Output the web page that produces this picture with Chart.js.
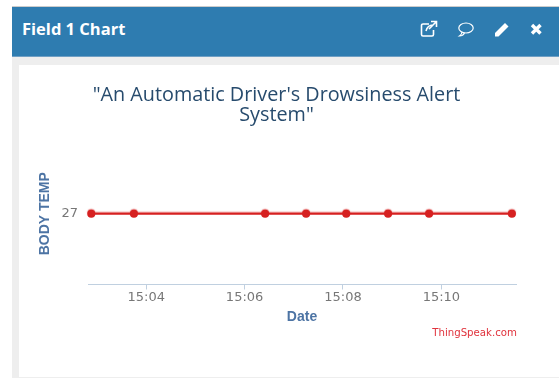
<!DOCTYPE html>
<html>
<head>
<meta charset="UTF-8">
<title>Field 1 Chart</title>
<script src="https://cdn.jsdelivr.net/npm/chart.js"></script>
<style>
    html, body { margin: 0; padding: 0; width: 559px; height: 379px; background: #fff; overflow: hidden; font-family: 'Lato', sans-serif; }
    .panel { position: absolute; left: 12px; top: 6px; width: 547px; height: 372px; background: #eee; border-top: 1px solid #ccc; box-sizing: border-box; }
    .heading { position: absolute; left: 12px; top: 7px; width: 547px; height: 50px; background: #2e7cb0; border-bottom: 1px solid #6f9fc4; box-sizing: border-box; }
    .heading span { position: absolute; left: 10px; top: 10px; color: #fff; font-weight: bold; font-size: 16.5px; font-family: 'Open Sans', sans-serif; }
    .heading svg { position: absolute; top: 13px; }
    .body { position: absolute; left: 19px; top: 65px; width: 540px; height: 312px; background: #fff; }
    .credit { position: absolute; right: 42px; top: 262px; color: #e0323c; font-size: 10.2px; font-family: 'DejaVu Sans', sans-serif; }
</style>
</head>
<body>
<div class="panel"></div>
<div class="heading">
    <span>Field 1 Chart</span>
    <svg style="left:408px" width="18" height="18" viewBox="0 0 18 18" fill="none" stroke="#fff" stroke-width="1.6"><path d="M9 4H3a1.5 1.5 0 0 0-1.5 1.5v9A1.5 1.5 0 0 0 3 16h9a1.5 1.5 0 0 0 1.5-1.5V10"/><path d="M6 11c1-4 4-6 7-6M11 1.5h5.5V7M16.5 1.5L9 9"/></svg>
    <svg style="left:445px" width="17" height="18" viewBox="0 0 17 18" fill="none" stroke="#fff" stroke-width="1.2"><ellipse cx="9" cy="8" rx="7.2" ry="5"/><path d="M5 12c0 2-1 3-2.5 4 2 0 4-1 5-3"/></svg>
    <svg style="left:482px" width="16" height="18" viewBox="0 0 16 18" fill="#fff"><path d="M1 13L11 3l3.5 3.5-10 10H1z"/></svg>
    <svg style="left:517px" width="14" height="18" viewBox="0 0 14 18" stroke="#fff" stroke-width="3.4"><path d="M3 5l8.5 8.5M11.5 5L3 13.5"/></svg>
</div>
<div class="body">
    <canvas id="fieldChart" width="540" height="312"></canvas>
    <div class="credit">ThingSpeak.com</div>
</div>

<script>
    const chartTitle = ['"An Automatic Driver\'s Drowsiness Alert', 'System"'];
    const yAxisLabel = 'BODY TEMP';
    const xAxisLabel = 'Date';
    const times = ['15:02:53', '15:03:45', '15:06:25', '15:07:15', '15:08:04', '15:08:55', '15:09:45', '15:11:26'];
    const temps = [27, 27, 27, 27, 27, 27, 27, 27];
    const yTicks = [27];

    function toSeconds(t) {
        const p = t.split(':').map(Number);
        return p[0] * 3600 + p[1] * 60 + p[2];
    }

    function clock(sec) {
        const h = Math.floor(sec / 3600);
        const m = Math.floor(sec % 3600 / 60);
        return h + ':' + String(m).padStart(2, '0');
    }

    // soft halo around the line, the way highcharts draws its series shadow
    const lineShadow = {
        id: 'lineShadow',
        beforeDatasetsDraw(chart) {
            chart.ctx.save();
            chart.ctx.shadowColor = 'rgba(214, 32, 32, 0.5)';
            chart.ctx.shadowBlur = 1;
            chart.ctx.shadowOffsetY = -1;
        },
        afterDatasetsDraw(chart) {
            chart.ctx.restore();
        }
    };

    new Chart(document.getElementById('fieldChart'), {
        type: 'line',
        plugins: [lineShadow],
        data: {
            datasets: [{
                data: times.map((t, i) => ({ x: toSeconds(t), y: temps[i] })),
                borderColor: '#d62020',
                backgroundColor: '#d62020',
                borderWidth: 2,
                pointRadius: 4,
                pointBorderWidth: 0,
                tension: 0,
                clip: false
            }]
        },
        options: {
            responsive: false,
            animation: false,
            layout: { padding: { left: 18, right: 43, top: 20, bottom: 47 } },
            plugins: {
                legend: { display: false },
                tooltip: { enabled: false },
                title: {
                    display: true,
                    text: chartTitle,
                    color: '#274b6d',
                    font: { family: 'Open Sans', size: 19.8, weight: 'normal', lineHeight: 1.01 },
                    padding: { top: 0, bottom: 18 }
                }
            },
            scales: {
                x: {
                    type: 'linear',
                    min: toSeconds('15:02:49'),
                    max: toSeconds('15:11:31'),
                    afterFit: s => { s.height = 45.5; },
                    border: { color: '#c0d0e0', width: 1 },
                    grid: { drawOnChartArea: false, color: '#c0d0e0', tickLength: 5 },
                    ticks: {
                        stepSize: 120,
                        includeBounds: false,
                        maxRotation: 0,
                        color: '#777',
                        padding: 0,
                        font: { family: 'DejaVu Sans', size: 13 },
                        callback: v => clock(v)
                    },
                    title: {
                        display: true,
                        text: xAxisLabel,
                        color: '#4d74a4',
                        padding: { top: 2 },
                        font: { family: 'Liberation Sans', size: 14, weight: 'bold' }
                    }
                },
                y: {
                    min: 26,
                    max: 28,
                    afterFit: s => { s.width = 51; },
                    afterBuildTicks: s => { s.ticks = yTicks.map(v => ({ value: v })); },
                    border: { display: false },
                    grid: { display: false },
                    ticks: {
                        color: '#777',
                        padding: 2,
                        font: { family: 'DejaVu Sans', size: 13 }
                    },
                    title: {
                        display: true,
                        text: yAxisLabel,
                        color: '#4d74a4',
                        padding: 0,
                        font: { family: 'Liberation Sans', size: 14, weight: 'bold' }
                    }
                }
            }
        }
    });
</script>
</body>
</html>
